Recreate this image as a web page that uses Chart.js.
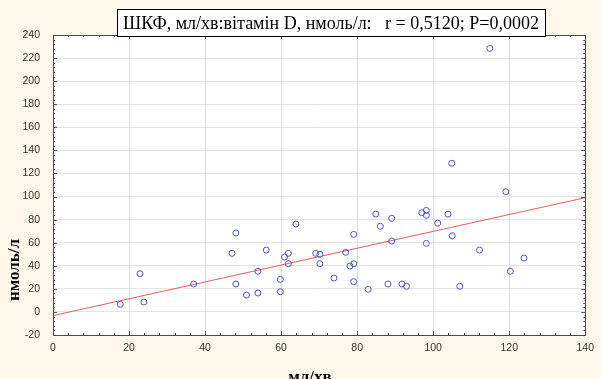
<!DOCTYPE html>
<html>
<head>
<meta charset="utf-8">
<script src="https://cdn.jsdelivr.net/npm/chart.js@4"></script>
<style>
  html, body { margin: 0; padding: 0; background: #fdf8ea; overflow: hidden; }
  canvas { display: block; }
</style>
</head>
<body>
<canvas id="chart" width="601" height="379"></canvas>
<script>
// ШКФ (мл/хв) vs вітамін D (нмоль/л)
const xValues = [17.7, 23.9, 22.9, 37.0, 48.1, 47.1, 48.1, 50.9, 53.9, 53.9, 56.1, 59.8, 59.8, 60.9, 61.9, 61.9,
    63.9, 69.1, 70.2, 70.2, 73.9, 77.0, 78.1, 79.1, 79.1, 79.1, 82.9, 84.9, 86.1, 89.1, 89.1, 88.1,
    91.8, 93.0, 114.9, 104.9, 119.1, 97.0, 98.2, 98.2, 103.9, 101.2, 105.0, 98.2, 112.2, 123.9, 120.3, 107.0];
const yValues = [6.6, 8.6, 33.1, 24.2, 68.4, 50.8, 24.2, 14.6, 16.4, 35.2, 53.6, 28.2, 17.5, 47.6, 50.8, 41.8,
    76.2, 50.8, 49.9, 41.8, 29.4, 51.6, 39.8, 41.8, 67.2, 26.2, 19.6, 84.8, 74.2, 81.1, 61.4, 24.2,
    24.2, 22.2, 228.4, 128.8, 104.2, 86.0, 88.0, 83.7, 84.8, 77.0, 66.0, 59.4, 53.6, 46.7, 35.2, 22.2];

// regression line ends
const fitX = [0, 140];
const fitY = [-3.2, 99];

const xTicks = [0, 20, 40, 60, 80, 100, 120, 140];
const yTicks = [-20, 0, 20, 40, 60, 80, 100, 120, 140, 160, 180, 200, 220, 240];

const titleText = 'ШКФ, мл/хв:вітамін D, нмоль/л:   r = 0,5120; P=0,0002';
const xTitle = 'мл/хв';
const yTitle = 'нмоль/л';

const frame = {
    id: 'frame',
    beforeDraw(chart) {
        const { ctx, chartArea: a } = chart;
        ctx.save();
        ctx.fillStyle = '#fdf8ea';
        ctx.fillRect(0, 0, chart.width, chart.height);
        ctx.fillStyle = '#ffffff';
        ctx.fillRect(a.left, a.top, a.right - a.left, a.bottom - a.top);
        ctx.restore();
    },
    afterDraw(chart) {
        const { ctx, chartArea: a, scales } = chart;
        const xs = scales.x, ys = scales.y;
        ctx.save();

        // tick marks on all four sides, pointing inward
        ctx.strokeStyle = '#555';
        ctx.lineWidth = 1;
        ctx.beginPath();
        for (let i = 0; i < xTicks.length - 1; i++) {
            for (let k = 0; k < 5; k++) {
                const v = xTicks[i] + k * (xTicks[i + 1] - xTicks[i]) / 5;
                const px = Math.round(xs.getPixelForValue(v)) + 0.5;
                const len = k === 0 ? 4 : 2;
                ctx.moveTo(px, a.bottom); ctx.lineTo(px, a.bottom - len);
                ctx.moveTo(px, a.top); ctx.lineTo(px, a.top + len);
            }
        }
        for (let i = 0; i < yTicks.length - 1; i++) {
            for (let k = 0; k < 5; k++) {
                const v = yTicks[i] + k * (yTicks[i + 1] - yTicks[i]) / 5;
                const py = Math.round(ys.getPixelForValue(v)) + 0.5;
                const len = k === 0 ? 4 : 2;
                ctx.moveTo(a.left, py); ctx.lineTo(a.left + len, py);
                ctx.moveTo(a.right, py); ctx.lineTo(a.right - len, py);
            }
        }
        ctx.stroke();

        // plot border
        ctx.strokeStyle = '#4a4a4a';
        ctx.strokeRect(Math.round(a.left) + 0.5, Math.round(a.top) + 0.5,
            Math.round(a.right - a.left), Math.round(a.bottom - a.top));

        // title box
        ctx.font = '18px "Liberation Serif"';
        const tw = ctx.measureText(titleText).width;
        const bx = 117, by = 9, bw = 428, bh = 27;
        ctx.fillStyle = '#ffffff';
        ctx.fillRect(bx, by, bw, bh);
        ctx.strokeStyle = '#000';
        ctx.strokeRect(bx + 0.5, by + 0.5, bw, bh);
        ctx.fillStyle = '#000';
        ctx.textBaseline = 'alphabetic';
        ctx.textAlign = 'left';
        ctx.fillText(titleText, bx + (bw - tw) / 2, by + 20);

        // axis titles
        ctx.font = 'bold 17px "Liberation Serif"';
        ctx.textAlign = 'center';
        ctx.textBaseline = 'middle';
        ctx.fillText(xTitle, 310, 378);
        ctx.translate(15, 270);
        ctx.rotate(-Math.PI / 2);
        ctx.fillText(yTitle, 0, 0);
        ctx.restore();
    }
};

const points = xValues.map((x, i) => ({ x: x, y: yValues[i] }));
const fitLine = fitX.map((x, i) => ({ x: x, y: fitY[i] }));

new Chart(document.getElementById('chart'), {
    type: 'scatter',
    data: {
        datasets: [{
            label: 'вітамін D',
            data: points,
            pointStyle: 'circle',
            pointRadius: 3,
            borderWidth: 1,
            borderColor: '#4a5ac0',
            backgroundColor: 'rgba(0,0,0,0)'
        }, {
            label: 'fit',
            data: fitLine,
            showLine: true,
            pointRadius: 0,
            borderWidth: 1,
            borderColor: '#f05a5a'
        }]
    },
    options: {
        responsive: false,
        animation: false,
        devicePixelRatio: 1,
        layout: { padding: { top: 35, right: 15, bottom: 0, left: 0 } },
        plugins: {
            legend: { display: false },
            tooltip: { enabled: false }
        },
        scales: {
            x: {
                type: 'linear',
                min: 0,
                max: 140,
                afterFit: (scale) => { scale.height = 44; },
                afterBuildTicks: (scale) => { scale.ticks = xTicks.map(v => ({ value: v })); },
                border: { display: false },
                grid: { color: '#dedede', drawTicks: false },
                ticks: {
                    padding: 7,
                    color: '#333',
                    font: { family: '"Liberation Sans"', size: 10.5 }
                }
            },
            y: {
                type: 'linear',
                min: -20,
                max: 240,
                afterFit: (scale) => { scale.width = 53; },
                afterBuildTicks: (scale) => { scale.ticks = yTicks.map(v => ({ value: v })); },
                border: { display: false },
                grid: { color: '#e4e4e4', drawTicks: false },
                ticks: {
                    padding: 13,
                    color: '#333',
                    font: { family: '"Liberation Sans"', size: 10.5 }
                }
            }
        }
    },
    plugins: [frame]
});
</script>
</body>
</html>
